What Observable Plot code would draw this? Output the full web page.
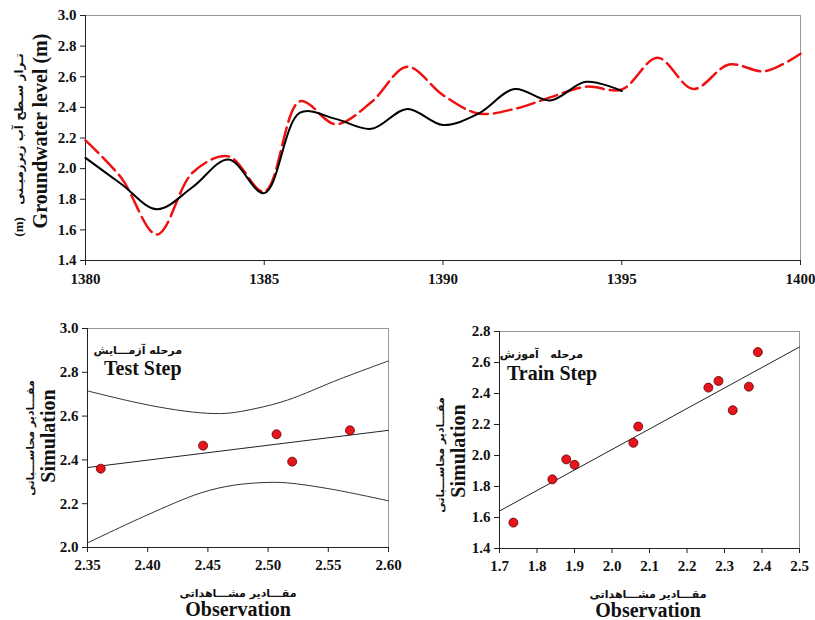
<!DOCTYPE html>
<html><head><meta charset="utf-8">
<script src="https://cdn.jsdelivr.net/npm/d3@7"></script>
<script src="https://cdn.jsdelivr.net/npm/@observablehq/plot@0.6"></script>
<style>
body{margin:0;background:#fff;}
#wrap{position:relative;width:815px;height:620px;overflow:hidden;background:#fff;}
.p{position:absolute;}
.t{position:absolute;white-space:nowrap;color:#111;line-height:1;}
.en{font-family:"Liberation Serif","Times New Roman",serif;font-weight:bold;}
.fa{font-family:"DejaVu Sans",sans-serif;font-weight:bold;}
.rot{transform:translate(-50%,-50%) rotate(-90deg);}
.ctr{transform:translate(-50%,-50%);}
.lft{transform:translate(0,-50%);}
.rgt{transform:translate(-100%,-50%);}
</style></head>
<body><div id="wrap">
<div class="p" id="topChart" style="left:0;top:0"></div>
<div class="p" id="testChart" style="left:0;top:300px"></div>
<div class="p" id="trainChart" style="left:410px;top:300px"></div>

<div class="t en rot" style="left:40px;top:131px;font-size:20px">Groundwater level (m)</div>
<div class="t fa rot" style="left:18px;top:145px;font-size:12px" dir="ltr"><span class="en" style="font-size:13px">(m)</span>&nbsp;&nbsp; تـراز سـطح آب زیرزمیـنی</div>

<div class="t fa rgt" style="left:182px;top:350px;font-size:11px" dir="rtl">مرحله آزمـــایش</div>
<div class="t en lft" style="left:104px;top:368px;font-size:20px">Test Step</div>
<div class="t fa rot" style="left:30px;top:438px;font-size:11px" dir="rtl">مقـــادیر محاســـباتی</div>
<div class="t en rot" style="left:48px;top:436px;font-size:20px">Simulation</div>
<div class="t fa ctr" style="left:238px;top:593px;font-size:11px" dir="rtl">مقـــادیر مشـــاهداتی</div>
<div class="t en ctr" style="left:238px;top:609px;font-size:20px">Observation</div>

<div class="t fa rgt" style="left:583px;top:354px;font-size:11px" dir="rtl">مرحله&nbsp;&nbsp; آموزش</div>
<div class="t en lft" style="left:507px;top:373px;font-size:20px">Train Step</div>
<div class="t fa rot" style="left:440px;top:455px;font-size:11px" dir="rtl">مقـــادیر محاســـباتی</div>
<div class="t en rot" style="left:458px;top:451px;font-size:20px">Simulation</div>
<div class="t fa ctr" style="left:648px;top:594px;font-size:11px" dir="rtl">مقـــادیر مشـــاهداتی</div>
<div class="t en ctr" style="left:648px;top:610px;font-size:20px">Observation</div>
</div>
<script>
// ---- Time series (yearly) ----
const obsYears = [1380,1381,1382,1383,1384,1385,1386,1387,1388,1389,1390,1391,1392,1393,1394,1395];
const obsLevel = [2.07,1.90,1.735,1.88,2.06,1.84,2.365,2.325,2.26,2.39,2.285,2.36,2.52,2.445,2.567,2.507];
const simYears = [1380,1381,1382,1383,1384,1385,1386,1387,1388,1389,1390,1391,1392,1393,1394,1395,1396,1397,1398,1399,1400];
const simLevel = [2.185,1.94,1.57,1.975,2.08,1.85,2.44,2.29,2.435,2.665,2.48,2.36,2.39,2.465,2.535,2.517,2.724,2.52,2.68,2.636,2.75];
const topXTicks = [1380,1385,1390,1395,1400];
const topYTicks = [1.4,1.6,1.8,2.0,2.2,2.4,2.6,2.8,3.0];

// ---- Test step scatter ----
const testObs = [2.361,2.446,2.507,2.520,2.568];
const testSim = [2.360,2.465,2.517,2.392,2.535];
const testFitX = [2.35,2.60];
const testFitY = [2.365,2.535];
const testUpperX = [2.35,2.388,2.416,2.444,2.466,2.49,2.516,2.56,2.60];
const testUpperY = [2.715,2.665,2.635,2.615,2.613,2.635,2.673,2.77,2.852];
const testLowerX = [2.35,2.399,2.444,2.471,2.499,2.516,2.554,2.60];
const testLowerY = [2.021,2.147,2.249,2.284,2.297,2.295,2.265,2.213];
const testXTicks = [2.35,2.40,2.45,2.50,2.55,2.60];
const testYTicks = [2.0,2.2,2.4,2.6,2.8,3.0];

// ---- Train step scatter ----
const trainObs = [2.07,1.90,1.737,1.878,2.057,1.841,2.365,2.322,2.257,2.389,2.284];
const trainSim = [2.187,1.94,1.567,1.975,2.082,1.846,2.444,2.292,2.438,2.667,2.481];
const trainFitX = [1.7,2.5];
const trainFitY = [1.642,2.70];
const trainXTicks = [1.7,1.8,1.9,2.0,2.1,2.2,2.3,2.4,2.5];
const trainYTicks = [1.4,1.6,1.8,2.0,2.2,2.4,2.6,2.8];

const SERIF = '"Liberation Serif","Times New Roman",serif';
const tickFont = {fontFamily:SERIF, fontWeight:"bold", fontSize:15, fill:"#111"};
const font = {fontFamily:SERIF, fontWeight:"bold", fontSize:"15px", color:"#111", background:"transparent", overflow:"visible"};
const obsData = obsYears.map((y,i)=>({year:y, v:obsLevel[i]}));
const simData = simYears.map((y,i)=>({year:y, v:simLevel[i]}));

const topPlot = Plot.plot({
  width:815, height:295, marginLeft:85, marginRight:15, marginTop:15, marginBottom:35,
  style:font,
  x:{domain:[1380,1400]}, y:{domain:[1.4,3.0]},
  marks:[
    Plot.frame({stroke:"#999", strokeWidth:1}),
    Plot.ruleX([1380],{stroke:"#222"}),
    Plot.ruleY([1.4],{stroke:"#222"}),
    Plot.axisX({ticks:topXTicks, tickSize:5, tickPadding:8, tickFormat:d=>String(d), label:null, stroke:"#222", ...tickFont}),
    Plot.axisY({ticks:topYTicks, tickSize:5, tickPadding:4, tickFormat:d=>d.toFixed(1), label:null, stroke:"#222", ...tickFont}),
    Plot.line(simData,{x:"year", y:"v", curve:"catmull-rom", stroke:"#ee1111", strokeWidth:2.5, strokeDasharray:"18,6"}),
    Plot.line(obsData,{x:"year", y:"v", curve:"catmull-rom", stroke:"#000", strokeWidth:2})
  ]
});
document.getElementById("topChart").appendChild(topPlot);

function scatter(cfg){
  const pts = cfg.obs.map((o,i)=>({o, s:cfg.sim[i]}));
  const fit = cfg.fitX.map((x,i)=>({x, y:cfg.fitY[i]}));
  const marks = [
    Plot.frame({stroke:"#999", strokeWidth:1}),
    Plot.ruleX([cfg.xd[0]],{stroke:"#222"}),
    Plot.ruleY([cfg.yd[0]],{stroke:"#222"}),
    Plot.axisX({ticks:cfg.xt, tickSize:5, tickPadding:7, tickFormat:d=>d.toFixed(cfg.xdig), label:null, stroke:"#222", ...tickFont}),
    Plot.axisY({ticks:cfg.yt, tickSize:5, tickPadding:4, tickFormat:d=>d.toFixed(1), label:null, stroke:"#222", ...tickFont}),
    Plot.line(fit,{x:"x", y:"y", stroke:"#222", strokeWidth:1})
  ];
  if (cfg.bands) for (const b of cfg.bands){
    marks.push(Plot.line(b.x.map((x,i)=>({x, y:b.y[i]})),{x:"x", y:"y", curve:"catmull-rom", stroke:"#333", strokeWidth:1}));
  }
  marks.push(Plot.dot(pts,{x:"o", y:"s", r:4.5, fill:"#e8141b", stroke:"#5a0000", strokeWidth:0.8}));
  return Plot.plot({
    width:400, height:290, marginLeft:cfg.ml, marginRight:cfg.mr, marginTop:cfg.mt, marginBottom:cfg.mb,
    style:font, x:{domain:cfg.xd}, y:{domain:cfg.yd}, marks
  });
}

document.getElementById("testChart").appendChild(scatter({
  obs:testObs, sim:testSim, fitX:testFitX, fitY:testFitY,
  bands:[{x:testUpperX,y:testUpperY},{x:testLowerX,y:testLowerY}],
  xd:[2.35,2.60], yd:[2.0,3.0], xt:testXTicks, yt:testYTicks, xdig:2,
  ml:87, mr:12, mt:28, mb:43
}));
document.getElementById("trainChart").appendChild(scatter({
  obs:trainObs, sim:trainSim, fitX:trainFitX, fitY:trainFitY,
  xd:[1.7,2.5], yd:[1.4,2.8], xt:trainXTicks, yt:trainYTicks, xdig:1,
  ml:89, mr:11, mt:31, mb:42
}));
</script>
</body></html>
